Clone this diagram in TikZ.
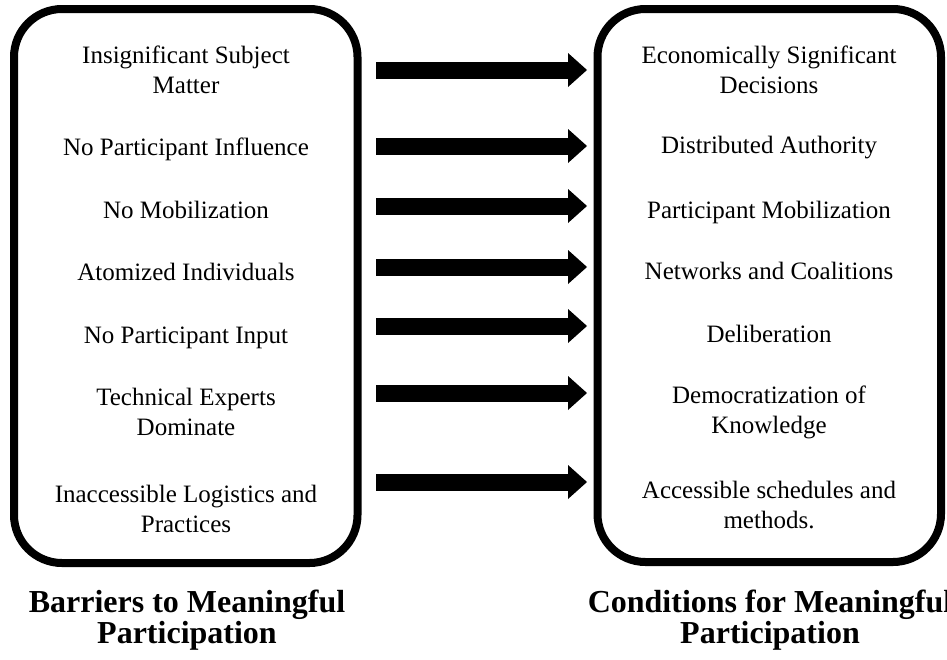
\documentclass[tikz,border=0pt]{standalone}
\usepackage{fontspec}
\setmainfont{Liberation Serif}
\usetikzlibrary{arrows.meta}
\tikzset{
  panel/.style={draw, line width=8pt, rounded corners=48pt},
  item/.style={font=\fontsize{25}{30}\selectfont, align=center, inner sep=0pt},
  heading/.style={font=\fontsize{32}{31}\selectfont\bfseries, align=center, inner sep=0pt},
  bigarrow/.style={line width=17pt, -{Triangle[length=19pt,width=34pt,line width=0pt]}}
}
\begin{document}
\begin{tikzpicture}[x=1pt,y=-1pt]
\useasboundingbox (0,0) rectangle (947,659);
\fill[white] (0,0) rectangle (947,659);

%left frame
\node[panel, minimum width=343.5pt, minimum height=554pt] (barriers) at (185.75,286) {};
\node[item] (b1) at (186,69.5) {Insignificant Subject\\Matter};
\node[item, anchor=base] (b2) at (186,155) {No Participant Influence};
\node[item, anchor=base] (b3) at (186,218) {No Mobilization};
\node[item, anchor=base] (b4) at (186,280) {Atomized Individuals};
\node[item, anchor=base] (b5) at (186,343) {No Participant Input};
\node[item] (b6) at (186,411.5) {Technical Experts\\Dominate};
\node[item] (b7) at (186,509) {Inaccessible Logistics and\\Practices};

%right frame
\node[panel, minimum width=343.5pt, minimum height=553pt] (conditions) at (769.25,285.5) {};
\node[item] (c1) at (769,69.5) {Economically Significant\\Decisions};
\node[item, anchor=base] (c2) at (769,153) {Distributed Authority};
\node[item, anchor=base] (c3) at (769,218) {Participant Mobilization};
\node[item, anchor=base] (c4) at (769,279) {Networks and Coalitions};
\node[item, anchor=base] (c5) at (769,342) {Deliberation};
\node[item] (c6) at (769,412) {Democratization of\\Knowledge};
\node[item] (c7) at (769,504.5) {Accessible schedules and\\methods.};

%arrows
\coordinate (s1) at (376,70);  \coordinate (e1) at (587,70);
\coordinate (s2) at (376,146); \coordinate (e2) at (587,146);
\coordinate (s3) at (376,206); \coordinate (e3) at (587,206);
\coordinate (s4) at (376,267); \coordinate (e4) at (587,267);
\coordinate (s5) at (376,326); \coordinate (e5) at (587,326);
\coordinate (s6) at (376,393); \coordinate (e6) at (587,393);
\coordinate (s7) at (376,482); \coordinate (e7) at (587,482);
\draw[bigarrow] (s1) -- (e1);
\draw[bigarrow] (s2) -- (e2);
\draw[bigarrow] (s3) -- (e3);
\draw[bigarrow] (s4) -- (e4);
\draw[bigarrow] (s5) -- (e5);
\draw[bigarrow] (s6) -- (e6);
\draw[bigarrow] (s7) -- (e7);

%titles
\node[heading] (bartitle) at (187,620) {Barriers to Meaningful\\Participation};
\node[heading] (condtitle) at (770,620) {Conditions for Meaningful\\Participation};

\end{tikzpicture}
\end{document}
